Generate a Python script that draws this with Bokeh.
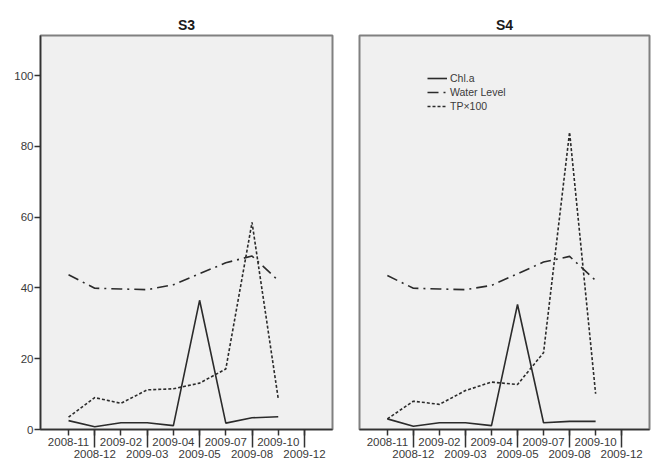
from bokeh.plotting import figure
from bokeh.layouts import row
from bokeh.models import Range1d, FixedTicker, LinearAxis
from bokeh.embed import file_html
from bokeh.resources import INLINE

# Sampling months (x categories); the last one has no samples
months = ["2008-11", "2008-12", "2009-02", "2009-03", "2009-04",
          "2009-05", "2009-07", "2009-08", "2009-10", "2009-12"]

# Station S3
s3_chla = [2.5, 0.8, 1.9, 1.9, 1.1, 36.5, 1.8, 3.3, 3.6]
s3_water = [43.7, 39.9, 39.7, 39.5, 40.9, 44.0, 47.1, 49.0, 42.1]
s3_tp = [3.5, 9.0, 7.4, 11.2, 11.5, 13.1, 17.1, 58.5, 8.7]

# Station S4
s4_chla = [3.0, 0.9, 1.9, 1.9, 1.1, 35.3, 1.9, 2.3, 2.3]
s4_water = [43.5, 39.9, 39.7, 39.5, 40.7, 44.0, 47.3, 48.9, 42.1]
s4_tp = [3.0, 8.0, 7.1, 11.0, 13.4, 12.7, 21.7, 84.0, 10.1]

y_ticks = [0, 20, 40, 60, 80, 100]

FONT = "Liberation Sans"
INK = "#2b2b2b"
LABEL = "#3a3a3a"
AXIS = "#333333"


def style_labels(axis):
    axis.major_label_text_font = FONT
    axis.major_label_text_font_size = "11.5px"
    axis.major_label_text_color = LABEL


def make_panel(title, chla, water, tp, width, border_left, border_right,
               show_y, with_legend):
    n = len(months)
    even = list(range(0, n, 2))
    odd = list(range(1, n, 2))
    p = figure(width=width, height=460, title=title,
               x_range=Range1d(-1.07, n - 1 + 1.07),
               y_range=Range1d(0, 111.3),
               output_backend="svg", toolbar_location=None,
               min_border_left=border_left, min_border_right=border_right,
               min_border_top=35, min_border_bottom=31)
    p.background_fill_color = "#f0f0f0"
    p.border_fill_color = "white"
    p.outline_line_color = "#808080"
    p.outline_line_width = 2
    p.grid.visible = False

    p.title.align = "center"
    p.title.text_font = FONT
    p.title.text_font_size = "14px"
    p.title.text_font_style = "bold"
    p.title.text_color = "#1a1a1a"
    p.title.standoff = 6

    xs = list(range(len(chla)))
    kw = dict(line_color=INK, line_width=1.6)
    if with_legend:
        p.line(xs, chla, legend_label="Chl.a", **kw)
        p.line(xs, water, line_dash="11 5 2 5", legend_label="Water Level", **kw)
        p.line(xs, tp, line_dash="3 2", legend_label="TP\u00d7100", **kw)
    else:
        p.line(xs, chla, **kw)
        p.line(xs, water, line_dash="11 5 2 5", **kw)
        p.line(xs, tp, line_dash="3 2", **kw)

    # first row of month labels: even positions, short ticks;
    # odd positions get long ticks (drawn as minor ticks)
    xa = p.xaxis[0]
    xa.ticker = FixedTicker(ticks=list(range(n)), minor_ticks=odd)
    xa.major_label_overrides = {i: (months[i] if i in even else "") for i in range(n)}
    xa.major_tick_in = 0
    xa.major_tick_out = 6
    xa.minor_tick_in = 0
    xa.minor_tick_out = 18
    xa.major_label_standoff = -10
    xa.axis_line_color = AXIS
    xa.axis_line_width = 1.5
    xa.major_tick_line_color = AXIS
    xa.minor_tick_line_color = AXIS
    xa.major_tick_line_width = 1.5
    xa.minor_tick_line_width = 1.5
    style_labels(xa)

    # second row of month labels: odd positions, under the long ticks
    xb = LinearAxis(ticker=FixedTicker(ticks=odd, minor_ticks=[]),
                    major_label_overrides={i: months[i] for i in odd})
    xb.axis_line_color = None
    xb.major_tick_line_color = None
    xb.minor_tick_line_color = None
    xb.major_tick_in = 0
    xb.major_tick_out = 0
    xb.minor_tick_in = 0
    xb.minor_tick_out = 0
    xb.major_label_standoff = 1
    style_labels(xb)
    p.add_layout(xb, "below")

    ya = p.yaxis[0]
    if show_y:
        ya.ticker = FixedTicker(ticks=y_ticks)
        ya.major_tick_in = 0
        ya.major_tick_out = 6
        ya.minor_tick_line_color = None
        ya.major_label_standoff = 1
        ya.axis_line_color = AXIS
        ya.axis_line_width = 1.5
        ya.major_tick_line_color = AXIS
        ya.major_tick_line_width = 1.5
        style_labels(ya)
    else:
        ya.visible = False

    if with_legend:
        lg = p.legend[0]
        lg.location = (66, 315)
        lg.background_fill_alpha = 0
        lg.border_line_alpha = 0
        lg.padding = 2
        lg.margin = 0
        lg.spacing = 2
        lg.glyph_width = 20
        lg.glyph_height = 12
        lg.label_height = 12
        lg.label_standoff = 3
        lg.label_text_font = FONT
        lg.label_text_font_size = "10.5px"
        lg.label_text_color = LABEL
    return p


left = make_panel("S3", s3_chla, s3_water, s3_tp, 345, 40, 13, True, False)
right = make_panel("S4", s4_chla, s4_water, s4_tp, 307, 14, 3, False, True)

layout = row(left, right)
open("out.html", "w").write(file_html(layout, INLINE))
